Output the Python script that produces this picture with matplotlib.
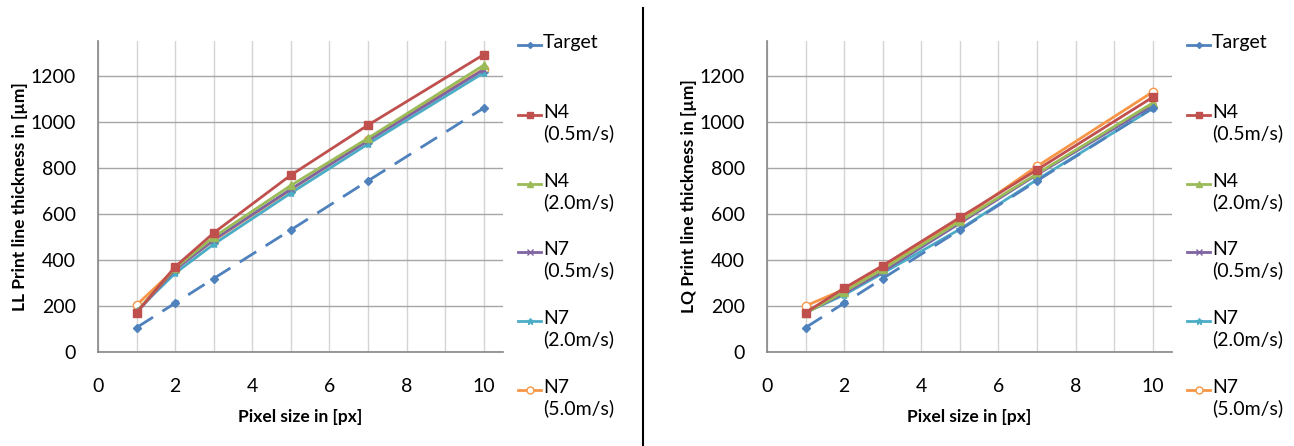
import matplotlib
matplotlib.use("Agg")
import matplotlib.pyplot as plt
from matplotlib.lines import Line2D

plt.rcParams['font.family'] = ['Lato', 'DejaVu Sans']

# pixel size (x values)
px = [1, 2, 3, 5, 7, 10]

target = [106, 212, 319, 530, 743, 1059]

# LL print (left chart)
ll_n4_05 = [171, 370, 517, 768, 985, 1291]
ll_n4_20 = [175, 364, 499, 723, 928, 1245]
ll_n7_05 = [171, 357, 487, 707, 917, 1226]
ll_n7_20 = [178, 342, 468, 690, 903, 1212]
ll_n7_50 = [204, 361, 484, 704, 922, 1229]

# LQ print (right chart)
lq_n4_05 = [171, 277, 375, 584, 791, 1106]
lq_n4_20 = [168, 262, 359, 567, 774, 1081]
lq_n7_05 = [171, 255, 349, 559, 770, 1070]
lq_n7_20 = [171, 248, 342, 533, 748, 1057]
lq_n7_50 = [200, 272, 368, 574, 806, 1129]

labels = ["Target", "N4\n(0.5m/s)", "N4\n(2.0m/s)", "N7\n(0.5m/s)", "N7\n(2.0m/s)", "N7\n(5.0m/s)"]
colors = ["#4F81BD", "#C0504D", "#9BBB59", "#8064A2", "#4BACC6", "#F79646"]
markers = ["D", "s", "^", "x", "*", "o"]
msizes = [4, 5.5, 6, 5, 6, 6]
yticks = [0, 200, 400, 600, 800, 1000, 1200]
xticks = [0, 2, 4, 6, 8, 10]

W, H = 1294, 446
fig = plt.figure(figsize=(W / 100, H / 100), dpi=100)


def style_marker(m, c):
    if m == "o":
        return dict(markerfacecolor="white", markeredgecolor=c, markeredgewidth=1.0)
    if m in ("x", "*"):
        return dict(markerfacecolor=c, markeredgecolor=c, markeredgewidth=1.0)
    return dict(markerfacecolor=c, markeredgecolor=c)


def draw_panel(left_px, series, ylabel, legend_x):
    ax = fig.add_axes([left_px / W, (H - 352) / H, 405 / W, 311 / H])
    for i, ys in enumerate(series):
        ax.plot(px, ys, color=colors[i], lw=2,
                ls=(0, (7, 4)) if i == 0 else "-",
                marker=markers[i], ms=msizes[i], zorder=3 + (5 - i),
                **style_marker(markers[i], colors[i]))
    ax.set_xlim(0, 10.5)
    ax.set_ylim(0, 1350)
    ax.set_xticks(xticks)
    ax.set_xticks(range(1, 11), minor=True)
    ax.set_yticks(yticks)
    ax.grid(axis="y", which="major", color="#A6A6A6", lw=1.0)
    ax.grid(axis="x", which="both", color="#D4D4D4", lw=1.0)
    ax.set_axisbelow(True)
    for s in ("top", "right"):
        ax.spines[s].set_visible(False)
    for s in ("left", "bottom"):
        ax.spines[s].set_color("#868686")
        ax.spines[s].set_linewidth(1.2)
    ax.tick_params(which="both", length=0, labelsize=14)
    ax.tick_params(axis="x", pad=19)
    ax.tick_params(axis="y", pad=16)
    ax.set_xlabel("Pixel size in [px]", fontsize=12.5, fontweight="bold", labelpad=10)
    ax.set_ylabel(ylabel, fontsize=12.5, fontweight="bold", labelpad=2)

    # legend drawn as glyph + text, handle aligned with first text line
    rows = [45, 115, 184, 252, 321, 390]
    for i, r in enumerate(rows):
        yf = (H - r) / H
        x0, x1 = legend_x / W, (legend_x + 23) / W
        fig.add_artist(Line2D([x0, x1], [yf, yf], transform=fig.transFigure,
                              color=colors[i], lw=2))
        fig.add_artist(Line2D([(x0 + x1) / 2], [yf], transform=fig.transFigure,
                              color=colors[i], marker=markers[i], ms=msizes[i] - 1,
                              ls="None", **style_marker(markers[i], colors[i])))
        fig.text((legend_x + 25) / W, yf + 11 / H, labels[i], fontsize=14, va="top",
                 ha="left", linespacing=1.2)
    return ax


draw_panel(98, [target, ll_n4_05, ll_n4_20, ll_n7_05, ll_n7_20, ll_n7_50],
           "LL Print line thickness in [µm]", 518)
draw_panel(767, [target, lq_n4_05, lq_n4_20, lq_n7_05, lq_n7_20, lq_n7_50],
           "LQ Print line thickness in [µm]", 1187)

# divider between the two charts
fig.add_artist(Line2D([643 / W, 643 / W], [0, (H - 8) / H], transform=fig.transFigure,
                      color="black", lw=1.5))

fig.savefig("out.png", dpi=100)
